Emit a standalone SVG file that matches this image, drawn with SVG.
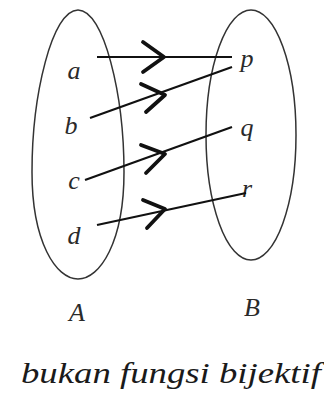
<svg xmlns="http://www.w3.org/2000/svg" width="324" height="405" viewBox="0 0 324 405">
<style>
.set{fill:none;stroke:#333;stroke-width:1.5}
.lbl{font-family:"Liberation Serif","DejaVu Serif",serif;font-style:italic;font-size:26px;fill:#2a2a2a;text-anchor:middle}
.ln{stroke:#111;stroke-width:2.2;fill:none}
.hd{stroke:#111;stroke-width:3.8;fill:none;stroke-linecap:round;stroke-linejoin:round}
</style>
<rect width="324" height="405" fill="#fff"/>
<g id="setA">
<path class="set" d="M78,10 C52,10 32,95 32,172 C32,242 56,279 78,279 C100,279 124,242 124,172 C124,95 104,10 78,10 Z"/>
<text class="lbl" x="74" y="79">a</text>
<text class="lbl" x="71" y="134">b</text>
<text class="lbl" x="74" y="189">c</text>
<text class="lbl" x="74" y="244">d</text>
<text class="lbl" x="77" y="321">A</text>
</g>
<g id="setB">
<ellipse class="set" cx="251" cy="135" rx="45" ry="125"/>
<text class="lbl" x="247" y="67">p</text>
<text class="lbl" x="247" y="136">q</text>
<text class="lbl" x="247" y="197">r</text>
<text class="lbl" x="252" y="316">B</text>
</g>
<g id="connectors">
<line class="ln" x1="97" y1="57" x2="232" y2="57"/>
<polyline class="hd" points="143,42 164,57 143,72"/>
<line class="ln" x1="90" y1="118" x2="232" y2="67"/>
<polyline class="hd" points="141,84 165,95 146,112"/>
<line class="ln" x1="85" y1="180" x2="232" y2="127"/>
<polyline class="hd" points="141,145 165,154 146,173"/>
<line class="ln" x1="97" y1="225" x2="246" y2="193"/>
<polyline class="hd" points="143,200 165,209 147,228"/>
</g>
<text x="171" y="383" style="font-family:'Liberation Serif','DejaVu Serif',serif;font-style:italic;font-size:30px;fill:#1a1a1a;text-anchor:middle" textLength="300" lengthAdjust="spacingAndGlyphs">bukan fungsi bijektif</text>
</svg>
